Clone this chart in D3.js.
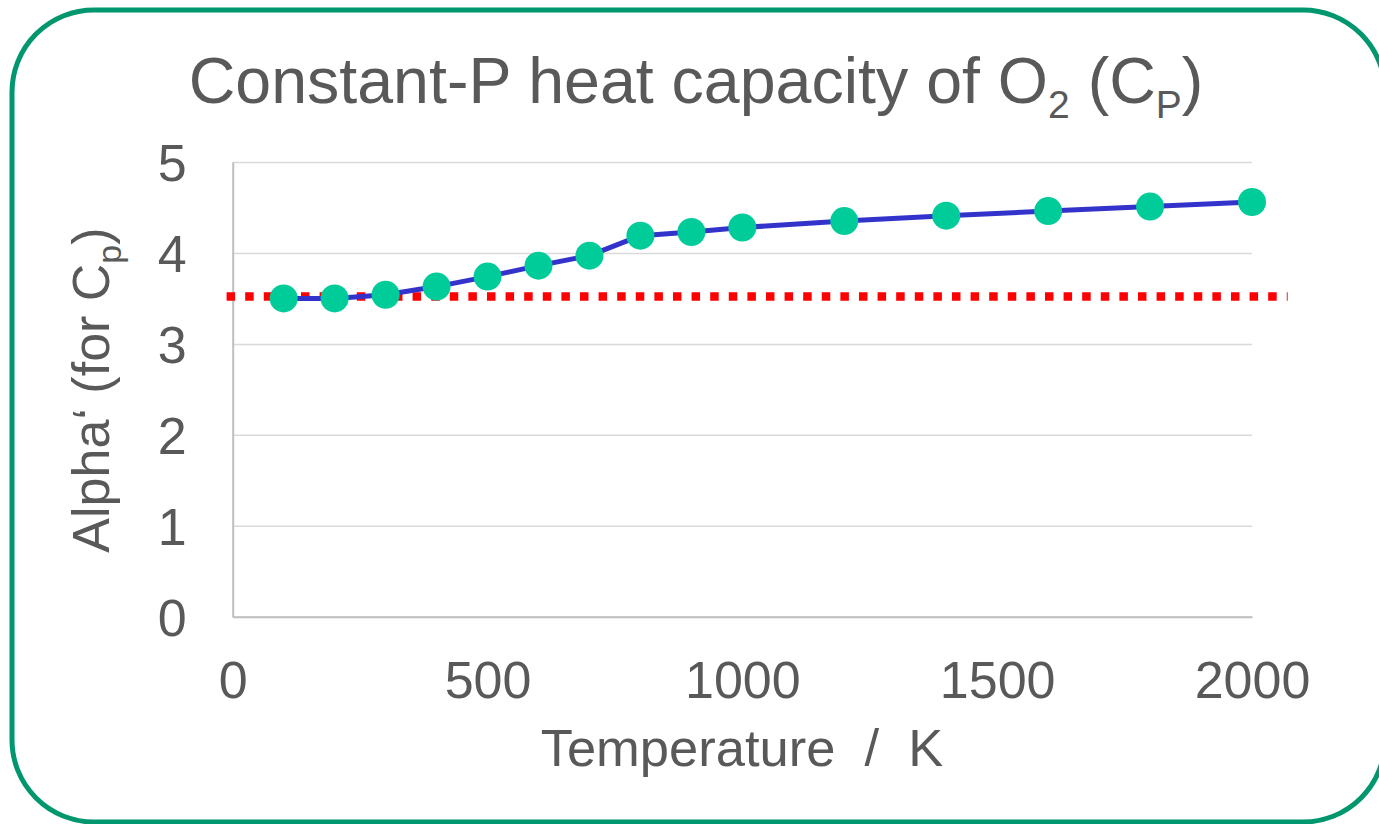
<!DOCTYPE html>
<html lang="en">
<head>
  <meta charset="UTF-8">
  <title>Cp of O2</title>
  <style>
    body{margin: 0; background: #fff;}
    svg{display: block; font-family: "Liberation Sans", Arial, sans-serif;}
  </style>
</head>
<body>
  <div id="chart"></div>
  <script src="https://d3js.org/d3.v7.min.js"></script>
  <script>
  // DATA
  const temps = [100, 200, 300, 400, 500, 600, 700, 800, 900, 1000, 1200, 1400, 1600, 1800, 2000];
  const alphas = [3.50, 3.50, 3.54, 3.63, 3.74, 3.86, 3.97, 4.19, 4.23, 4.28, 4.35, 4.41, 4.46, 4.51, 4.56];
  const refTemps = [-12, 2070];
  const refAlpha = 3.52;
  const xTicks = [0, 500, 1000, 1500, 2000];
  const yTicks = [0, 1, 2, 3, 4, 5];

  // CONSTANTS
  const width = 1379;
  const height = 824;
  const ctext = "#595959";
  const cgrid = "#d9d9d9";
  const caxis = "#bfbfbf";
  const cframe = "#00966e";
  const cline = "#3333cc";
  const cdot = "#00cc99";
  const cref = "#ff0000";

  const svg = d3.select("#chart").append("svg")
    .attr("width", width)
    .attr("height", height);

  // FRAME
  svg.append("rect")
    .attr("x", 12).attr("y", 10)
    .attr("width", 1373).attr("height", 812)
    .attr("rx", 82).attr("ry", 82)
    .attr("fill", "none")
    .attr("stroke", cframe)
    .attr("stroke-width", 5);

  // SCALES
  const x = d3.scaleLinear().domain([0, 2000]).range([232.7, 1252]);
  const y = d3.scaleLinear().domain([0, 5]).range([616.7, 162]);

  // GRID
  svg.append("g")
    .attr("transform", `translate(${x(0)},0)`)
    .call(d3.axisLeft(y).tickValues(yTicks).tickSize(-(x(2000) - x(0))).tickFormat(""))
    .call(g => g.select(".domain").remove())
    .call(g => g.selectAll("line").attr("stroke", cgrid).attr("stroke-width", 1.5));

  // AXES
  const yAxis = svg.append("g")
    .attr("transform", `translate(${x(0)},0)`)
    .call(d3.axisLeft(y).tickValues(yTicks).tickSize(0).tickPadding(46).tickFormat(d3.format("d")));
  yAxis.select(".domain").attr("stroke", caxis).attr("stroke-width", 2);
  yAxis.selectAll("text")
    .attr("dy", "0.36em")
    .attr("fill", ctext)
    .style("font-size", "52px")
    .style("font-family", "'Liberation Sans', Arial, sans-serif");

  const xAxis = svg.append("g")
    .attr("transform", `translate(0,${y(0)})`)
    .call(d3.axisBottom(x).tickValues(xTicks).tickSize(0).tickPadding(44).tickFormat(d3.format("d")));
  xAxis.select(".domain").attr("stroke", caxis).attr("stroke-width", 2);
  xAxis.selectAll("text")
    .attr("fill", ctext)
    .style("font-size", "52px")
    .style("font-family", "'Liberation Sans', Arial, sans-serif");

  // REFERENCE LINE (dotted)
  svg.append("path")
    .datum(refTemps)
    .attr("fill", "none")
    .attr("stroke", cref)
    .attr("stroke-width", 8.5)
    .attr("stroke-dasharray", "8.5 10.1")
    .attr("d", d3.line().x(d => x(d)).y(() => y(refAlpha)));

  // SERIES
  const pts = temps.map((t, i) => [t, alphas[i]]);
  svg.append("path")
    .datum(pts)
    .attr("fill", "none")
    .attr("stroke", cline)
    .attr("stroke-width", 5)
    .attr("stroke-linejoin", "round")
    .attr("d", d3.line().x(d => x(d[0])).y(d => y(d[1])));

  svg.append("g")
    .selectAll("circle")
    .data(pts)
    .join("circle")
    .attr("cx", d => x(d[0]))
    .attr("cy", d => y(d[1]))
    .attr("r", 14)
    .attr("fill", cdot);

  // TITLE
  const title = svg.append("text")
    .attr("x", 696).attr("y", 103)
    .attr("text-anchor", "middle")
    .attr("fill", ctext)
    .style("font-size", "64.5px");
  title.append("tspan").text("Constant-P heat capacity of O");
  title.append("tspan").attr("dy", 15).style("font-size", "39px").text("2");
  title.append("tspan").attr("dy", -15).text(" (C");
  title.append("tspan").attr("dy", 15).style("font-size", "39px").text("P");
  title.append("tspan").attr("dy", -15).text(")");

  // AXIS TITLES
  svg.append("text")
    .attr("x", 742).attr("y", 766)
    .attr("text-anchor", "middle")
    .attr("fill", ctext)
    .style("font-size", "52.5px")
    .style("white-space", "pre")
    .text("Temperature  /  K");

  const ylab = svg.append("text")
    .attr("transform", "translate(109,390) rotate(-90)")
    .attr("text-anchor", "middle")
    .attr("fill", ctext)
    .style("font-size", "52px");
  ylab.append("tspan").text("Alpha‘ (for C");
  ylab.append("tspan").attr("dy", 12).style("font-size", "34px").text("p");
  ylab.append("tspan").attr("dy", -12).text(")");
  </script>
</body>
</html>
